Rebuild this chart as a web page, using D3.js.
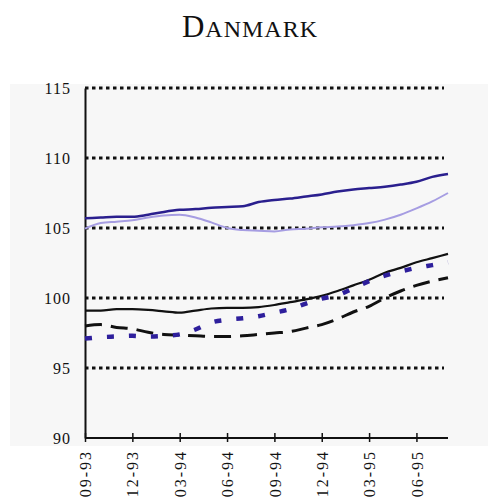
<!DOCTYPE html>
<html>
<head>
<meta charset="utf-8">
<script src="https://cdn.jsdelivr.net/npm/d3@7/dist/d3.min.js"></script>
<style>
  body { margin: 0; background: #fff; }
  svg text { font-family: "Liberation Serif", "DejaVu Serif", serif; fill: #111; }
</style>
</head>
<body>
<script>
var svg_width  = 492;
var svg_height = 499;

// months 09-93 .. 08-95
var months = ["09-93","10-93","11-93","12-93","01-94","02-94","03-94","04-94","05-94","06-94","07-94","08-94",
              "09-94","10-94","11-94","12-94","01-95","02-95","03-95","04-95","05-95","06-95","07-95","08-95"];
var tickLabels = ["09-93","12-93","03-94","06-94","09-94","12-94","03-95","06-95"];
var yTicks = [90, 95, 100, 105, 110, 115];

var darkBlue = [105.7,105.75,105.8,105.8,105.95,106.15,106.3,106.35,106.45,106.5,106.55,106.85,
                107.0,107.1,107.25,107.4,107.6,107.75,107.85,107.95,108.1,108.3,108.65,108.85];
var lightBlue = [104.95,105.35,105.45,105.55,105.75,105.9,105.95,105.75,105.4,105.0,104.85,104.8,
                 104.75,104.9,104.95,105.05,105.1,105.2,105.35,105.6,105.95,106.4,106.9,107.5];
var blackSolid = [99.1,99.1,99.2,99.2,99.15,99.05,98.95,99.1,99.25,99.3,99.3,99.35,
                  99.5,99.7,99.9,100.15,100.5,100.9,101.3,101.8,102.15,102.55,102.85,103.15];
var blackDashed = [98.0,98.1,97.9,97.8,97.55,97.4,97.35,97.3,97.25,97.25,97.3,97.4,
                   97.5,97.6,97.85,98.1,98.5,99.0,99.4,100.0,100.5,100.9,101.2,101.45];
var blueDotted = [97.1,97.2,97.25,97.3,97.25,97.3,97.4,97.75,98.25,98.45,98.55,98.7,
                  98.95,99.2,99.6,99.95,100.2,100.7,101.2,101.6,101.9,102.15,102.35,102.55];

var svg = d3.select('body').append('svg')
            .attr('width', svg_width)
            .attr('height', svg_height)

// faint scanned paper tone
svg.append("rect")
   .attr("x", 10).attr("y", 84)
   .attr("width", 478).attr("height", 362)
   .attr("fill", "#f7f7f7");

var x = d3.scalePoint().domain(months).range([85, 448]);
var y = d3.scaleLinear().domain([90, 115]).range([438, 88]);

// title in small caps
var title = svg.append("text")
               .attr("x", 250).attr("y", 37)
               .attr("text-anchor", "middle")
               .attr("letter-spacing", 1);
title.append("tspan").attr("font-size", 31).text("D");
title.append("tspan").attr("font-size", 24).text("ANMARK");

// dotted grid lines
svg.append("g")
   .selectAll("line")
   .data(yTicks.filter(d => d > 90))
   .enter().append("line")
   .attr("x1", 85).attr("x2", 444)
   .attr("y1", d => y(d)).attr("y2", d => y(d))
   .attr("stroke", "#111")
   .attr("stroke-width", 3)
   .attr("stroke-dasharray", "3.5,3.5");

// y axis
var yAxis = d3.axisLeft(y).tickValues(yTicks).tickSize(0).tickPadding(14);
var gy = svg.append("g").attr("transform", "translate(85,0)").call(yAxis);
gy.select(".domain").attr("stroke", "#111").attr("stroke-width", 2);
gy.selectAll("text")
  .attr("font-size", 16)
  .attr("letter-spacing", 1)
  .attr("font-family", "Liberation Serif, serif")
  .attr("fill", "#111");

// x axis
var xAxis = d3.axisBottom(x).tickValues(tickLabels).tickSize(5).tickPadding(6);
var gx = svg.append("g").attr("transform", "translate(0,438)").call(xAxis);
gx.select(".domain").attr("stroke", "#111").attr("stroke-width", 2).attr("d", "M85,0H448");
gx.selectAll(".tick line").attr("stroke", "#111").attr("stroke-width", 1.5).attr("y1", -5).attr("y2", 4);
gx.selectAll("text")
  .attr("font-size", 16)
  .attr("letter-spacing", 2)
  .attr("font-family", "Liberation Serif, serif")
  .attr("fill", "#111")
  .attr("text-anchor", "end")
  .attr("transform", "rotate(-90)")
  .attr("x", -12).attr("y", 0).attr("dy", "0.35em");

var line = d3.line()
             .x((d, i) => x(months[i]))
             .y(d => y(d))
             .curve(d3.curveMonotoneX);

var series = [
  {values: lightBlue, color: "#a69de2", width: 2, dash: null},
  {values: darkBlue, color: "#2a1f8e", width: 2.5, dash: null},
  {values: blackDashed, color: "#111", width: 3, dash: "17,9"},
  {values: blackSolid, color: "#111", width: 2.2, dash: null},
  {values: blueDotted, color: "#2e1f9c", width: 4.5, dash: "7,15"}
];

svg.append("g")
   .selectAll("path")
   .data(series)
   .enter().append("path")
   .attr("d", d => line(d.values))
   .attr("fill", "none")
   .attr("stroke", d => d.color)
   .attr("stroke-width", d => d.width)
   .attr("stroke-dasharray", d => d.dash);
</script>
</body>
</html>
